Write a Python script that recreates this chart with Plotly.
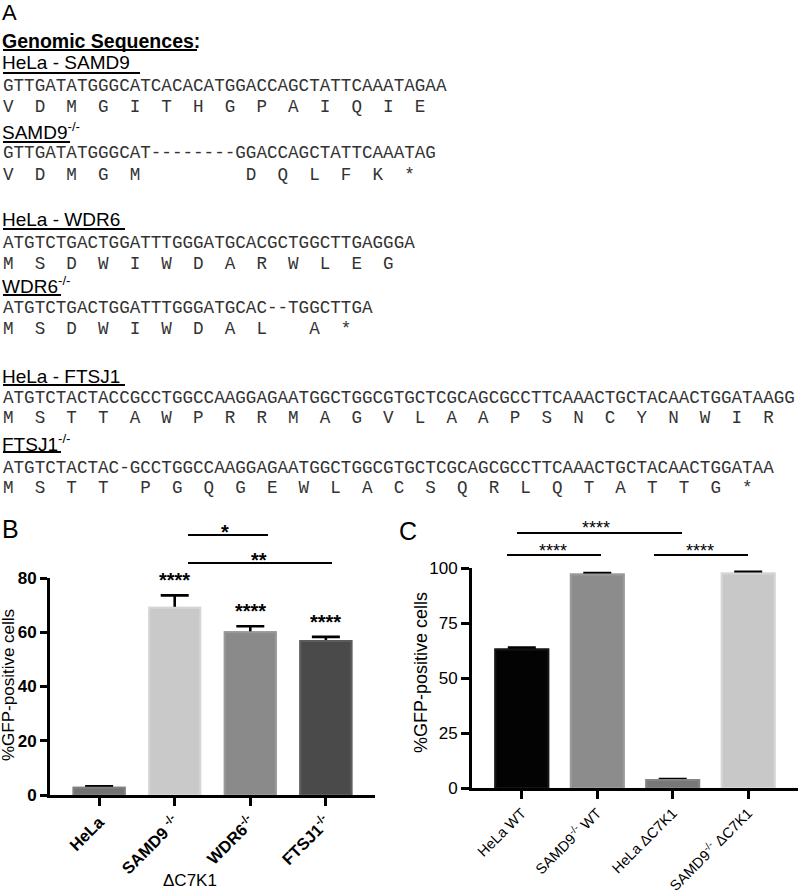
import plotly.graph_objects as go

W, H = 800, 894
SANS = "Liberation Sans, Arial, sans-serif"
MONO = "Liberation Mono, Courier New, monospace"
NB = "\u00a0"

# ---------------- Panel A data ----------------
seq_titles = ["HeLa - SAMD9", "SAMD9<sup>-/-</sup>", "HeLa - WDR6",
              "WDR6<sup>-/-</sup>", "HeLa - FTSJ1", "FTSJ1<sup>-/-</sup>"]
sequences = [
    "GTTGATATGGGCATCACACATGGACCAGCTATTCAAATAGAA",
    "GTTGATATGGGCAT--------GGACCAGCTATTCAAATAG",
    "ATGTCTGACTGGATTTGGGATGCACGCTGGCTTGAGGGA",
    "ATGTCTGACTGGATTTGGGATGCAC--TGGCTTGA",
    "ATGTCTACTACCGCCTGGCCAAGGAGAATGGCTGGCGTGCTCGCAGCGCCTTCAAACTGCTACAACTGGATAAGG",
    "ATGTCTACTAC-GCCTGGCCAAGGAGAATGGCTGGCGTGCTCGCAGCGCCTTCAAACTGCTACAACTGGATAA",
]
aa_residues = [
    "VDMGITHGPAIQIE",
    "VDMGMDQLFK*",
    "MSDWIWDARWLEG",
    "MSDWIWDALA*",
    "MSTTAWPRRMAGVLAAPSNCYNWIR",
    "MSTTPGQGEWLACSQRLQTATTG*",
]
aa_columns = [
    [0, 3, 6, 9, 12, 15, 18, 21, 24, 27, 30, 33, 36, 39],
    [0, 3, 6, 9, 12, 23, 26, 29, 32, 35, 38],
    [0, 3, 6, 9, 12, 15, 18, 21, 24, 27, 30, 33, 36],
    [0, 3, 6, 9, 12, 15, 18, 21, 24, 29, 32],
    [0, 3, 6, 9, 12, 15, 18, 21, 24, 27, 30, 33, 36, 39, 42, 45, 48, 51, 54, 57, 60, 63, 66, 69, 72],
    [0, 3, 6, 9, 13, 16, 19, 22, 25, 28, 31, 34, 37, 40, 43, 46, 49, 52, 55, 58, 61, 64, 67, 70],
]

# ---------------- Panel B data ----------------
b_categories = ["HeLa", "SAMD9 <sup>-/-</sup>", "WDR6<sup>-/-</sup>", "FTSJ1<sup>-/-</sup>"]
b_values = [2.7, 69.0, 60.0, 56.8]
b_errors = [0.5, 4.6, 2.2, 1.5]
b_stars = ["", "****", "****", "****"]
b_ticks = [0, 20, 40, 60, 80]
b_fill = ["#727272", "#c9c9c9", "#8a8a8a", "#4a4a4a"]
b_edge = ["#808080", "#d6d6d6", "#999999", "#5c5c5c"]

# ---------------- Panel C data ----------------
c_categories = ["HeLa WT", "SAMD9<sup>-/-</sup> WT", "HeLa \u0394C7K1", "SAMD9<sup>-/-</sup> \u0394C7K1"]
c_values = [63.0, 97.0, 3.6, 97.5]
c_errors = [0.8, 0.7, 0.5, 0.8]
c_ticks = [0, 25, 50, 75, 100]
c_fill = ["#030303", "#8c8c8c", "#777777", "#c8c8c8"]
c_edge = ["#151515", "#9a9a9a", "#858585", "#d6d6d6"]


def X(px):
    return px / W


def Y(py):
    return 1 - py / H


fig = go.Figure()

# Panel B bars: first copy carries error bars, second copy hides the lower part
for err in [True, False]:
    fig.add_trace(go.Bar(
        x=b_categories, y=b_values, xaxis="x", yaxis="y", width=0.675,
        marker=dict(color=b_fill, line=dict(color=b_edge, width=2)),
        error_y=dict(type="data", symmetric=False, array=b_errors, arrayminus=b_values,
                     color="black", thickness=2.6, width=14, visible=err),
        showlegend=False, hoverinfo="skip"))

for err in [True, False]:
    fig.add_trace(go.Bar(
        x=c_categories, y=c_values, xaxis="x2", yaxis="y2", width=0.70,
        marker=dict(color=c_fill, line=dict(color=c_edge, width=2)),
        error_y=dict(type="data", symmetric=False, array=c_errors, arrayminus=c_values,
                     color="black", thickness=2.6, width=14, visible=err),
        showlegend=False, hoverinfo="skip"))

annotations = []
shapes = []


def txt(x, y, text, size, family=SANS, weight="normal", xanchor="left", angle=0, color="black"):
    annotations.append(dict(x=X(x), y=Y(y), xref="paper", yref="paper", text=text,
                            showarrow=False, xanchor=xanchor, yanchor="middle",
                            textangle=angle, borderpad=0,
                            font=dict(family=family, size=size, color=color, weight=weight)))


def hline(x0, x1, y, w=1.8):
    shapes.append(dict(type="line", xref="paper", yref="paper", x0=X(x0), x1=X(x1),
                       y0=Y(y), y1=Y(y), line=dict(color="black", width=w)))


# ---- Panel A ----
txt(1, 12.5, "A", 22)
txt(1, 40.5, "Genomic Sequences:", 19.5, weight="bold")
hline(3, 197, 50, 2)

title_y = [62, 131, 220, 285, 376, 443]
underline_y = [73, 142, 229, 295, 385, 452]
underline_x1 = [140, 70, 125, 61, 125, 61]
seq_y = [86, 153, 243, 308, 398, 468]
aa_y = [107, 175, 264, 329, 418, 488]

for k in range(6):
    txt(1, title_y[k], seq_titles[k], 19)
    hline(3, underline_x1[k], underline_y[k], 1.8)
    txt(2, seq_y[k], sequences[k], 17.6, family=MONO, color="#333333")
    row = [NB] * (max(aa_columns[k]) + 1)
    for r, c in zip(aa_residues[k], aa_columns[k]):
        row[c] = r
    txt(2, aa_y[k], "".join(row), 17.6, family=MONO, color="#333333")

# ---- Panel B ----
txt(1, 529, "B", 25)
txt(8, 685, "%GFP-positive cells", 17, xanchor="center", angle=-90)
txt(190, 880, "\u0394C7K1", 17, xanchor="center")
for cat, v, e, s in zip(b_categories, b_values, b_errors, b_stars):
    if s:
        annotations.append(dict(x=cat, y=v + e, xref="x", yref="y", text=s, showarrow=False,
                                yanchor="middle", yshift=15, borderpad=0,
                                font=dict(family=SANS, size=20, color="black", weight="bold")))
hline(188, 268, 535)
txt(225, 532, "*", 20, xanchor="center", weight="bold")
hline(188, 332, 563)
txt(259, 560, "**", 20, xanchor="center", weight="bold")

# ---- Panel C ----
txt(398, 531, "C", 25)
txt(421, 673, "%GFP-positive cells", 18, xanchor="center", angle=-90)
hline(517, 682, 533)
txt(596, 528, "****", 18, xanchor="center")
hline(507, 601, 555)
txt(553, 551, "****", 18, xanchor="center")
hline(654, 748, 555)
txt(700, 551, "****", 18, xanchor="center")

axis_common = dict(showline=True, linewidth=3, linecolor="black", ticks="outside",
                   tickwidth=3, tickcolor="black", showgrid=False, zeroline=False,
                   fixedrange=True)

fig.update_layout(
    width=W, height=H, margin=dict(l=0, r=0, t=0, b=0, autoexpand=False),
    paper_bgcolor="white", plot_bgcolor="white", barmode="overlay",
    showlegend=False,
    xaxis=dict(domain=[X(50), X(375)], anchor="y", range=[-0.65, 3.65], ticklen=8,
               tickangle=-45, tickfont=dict(family=SANS, size=16.5, color="black", weight="bold"),
               **axis_common),
    yaxis=dict(domain=[Y(795), Y(578)], anchor="x", range=[0, 80], tickvals=b_ticks, ticklen=7,
               tickfont=dict(family=SANS, size=17, color="black", weight="bold"),
               **axis_common),
    xaxis2=dict(domain=[X(472), X(798)], anchor="y2", range=[-0.66, 3.66], ticklen=8,
                tickangle=-45, tickfont=dict(family=SANS, size=14.5, color="black"),
                **axis_common),
    yaxis2=dict(domain=[Y(788), Y(568)], anchor="x2", range=[0, 100], tickvals=c_ticks, ticklen=8,
                tickfont=dict(family=SANS, size=17, color="black"),
                **axis_common),
    annotations=annotations,
    shapes=shapes,
)

fig.write_html("out.html", config={"displayModeBar": False},
               post_script="document.body.style.margin='0';document.body.style.overflow='hidden';")
